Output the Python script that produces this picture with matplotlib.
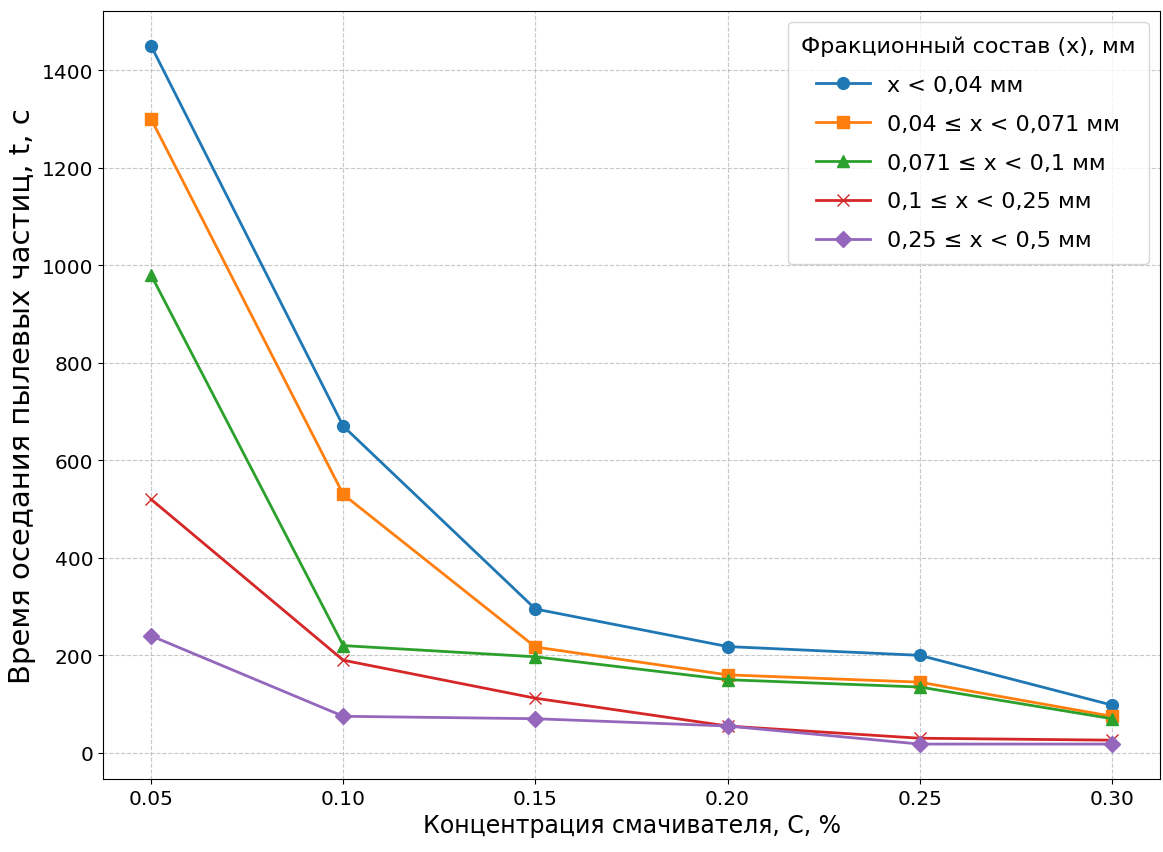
import matplotlib
matplotlib.use('Agg')
import matplotlib.pyplot as plt

# концентрация смачивателя, %
concentration = [0.05, 0.10, 0.15, 0.20, 0.25, 0.30]

# время оседания, с
t_lt_004 = [1450, 670, 295, 218, 200, 98]
t_004_0071 = [1300, 530, 217, 160, 145, 75]
t_0071_01 = [980, 220, 197, 150, 135, 70]
t_01_025 = [520, 190, 112, 55, 30, 26]
t_025_05 = [240, 75, 70, 55, 18, 18]

labels = ['x < 0,04 мм',
          '0,04 ≤ x < 0,071 мм',
          '0,071 ≤ x < 0,1 мм',
          '0,1 ≤ x < 0,25 мм',
          '0,25 ≤ x < 0,5 мм']
markers = ['o', 's', '^', 'x', 'D']
series = [t_lt_004, t_004_0071, t_0071_01, t_01_025, t_025_05]

fig = plt.figure(figsize=(11.63, 8.53), dpi=100)
ax = fig.add_axes([0.0886, 0.0856, 0.9088, 0.9004])

for values, label, marker in zip(series, labels, markers):
    ax.plot(concentration, values, marker=marker, markersize=8.5, linewidth=2, label=label)

ax.set_xticks(concentration)
ax.set_xticklabels(['%.2f' % c for c in concentration])
ax.tick_params(labelsize=14.5)
ax.set_xlabel('Концентрация смачивателя, С, %', fontsize=17)
ax.set_ylabel('Время оседания пылевых частиц, t, с', fontsize=21)
ax.grid(True, linestyle='--', alpha=0.7)
ax.legend(title='Фракционный состав (x), мм', fontsize=16, title_fontsize=16,
          loc='upper right', labelspacing=0.85, borderpad=0.6, handlelength=2.4)

fig.savefig('out.png', dpi=100)
